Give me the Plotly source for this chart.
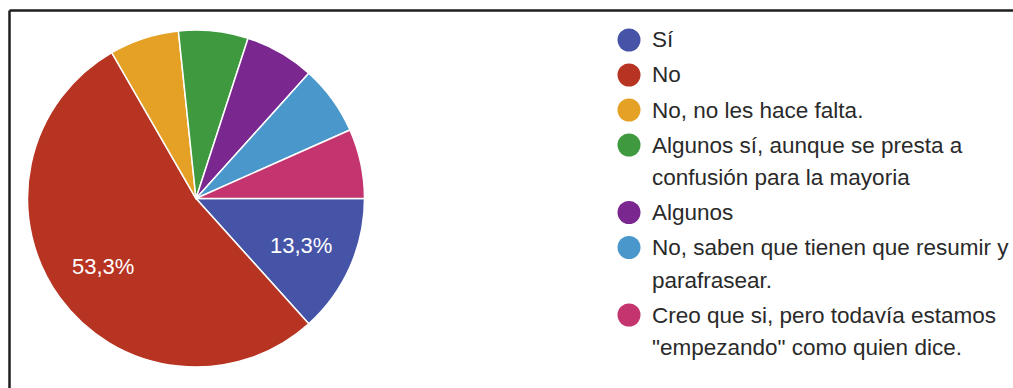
import math
import plotly.graph_objects as go

# Survey answers and number of respondents for each
labels = [
    "Sí",
    "No",
    "No, no les hace falta.",
    "Algunos sí, aunque se presta a confusión para la mayoría",
    "Algunos",
    "No, saben que tienen que resumir y parafrasear.",
    'Creo que si, pero todavía estamos "empezando" como quien dice.',
]
counts = [2, 8, 1, 1, 1, 1, 1]

# Legend text, wrapped the way it is shown
legend_lines = [
    ["Sí"],
    ["No"],
    ["No, no les hace falta."],
    ["Algunos sí, aunque se presta a", "confusión para la mayoria"],
    ["Algunos"],
    ["No, saben que tienen que resumir y", "parafrasear."],
    ["Creo que si, pero todavía estamos", '"empezando" como quien dice.'],
]

colors = ["#4654a8", "#b73322", "#e4a125", "#3f9a3f", "#7a2790", "#4a97cc", "#c4346f"]

W, H = 1013, 388
FONT = "Liberation Sans, Arial, sans-serif"


def px(x):
    return x / W


def py(y):
    return 1 - y / H


# pie placement (pixels)
PIE_L, PIE_R, PIE_T, PIE_B = 27, 365, 30, 367
PIE_CX, PIE_CY = (PIE_L + PIE_R) / 2, (PIE_T + PIE_B) / 2
PIE_RAD = (PIE_R - PIE_L) / 2
START_DEG = 90  # first slice starts at 3 o'clock, going clockwise

fig = go.Figure(
    go.Pie(
        labels=labels,
        values=counts,
        sort=False,
        direction="clockwise",
        rotation=START_DEG,
        marker=dict(colors=colors, line=dict(color="white", width=1.5)),
        textinfo="none",
        hoverinfo="label+percent",
        showlegend=False,
        domain=dict(x=[px(PIE_L), px(PIE_R)], y=[py(PIE_B), py(PIE_T)]),
    )
)

shapes = []
annotations = []

# percentage labels on the large slices, placed at the middle of each slice
total = sum(counts)
acc = 0
for c in counts:
    frac = c / total
    mid = START_DEG + 360 * (acc + frac / 2)  # clockwise from 12 o'clock
    acc += frac
    if frac <= 0.1:
        continue
    a = math.radians(mid)
    lx = PIE_CX + 0.68 * PIE_RAD * math.sin(a)
    ly = PIE_CY - 0.68 * PIE_RAD * math.cos(a)
    annotations.append(dict(text=f"{frac * 100:.1f}%".replace(".", ","),
                            xref="paper", yref="paper", x=px(lx), y=py(ly),
                            xanchor="center", yanchor="middle", showarrow=False,
                            font=dict(family=FONT, size=22, color="white")))

# frame lines along the top and left edge
shapes.append(dict(type="line", xref="paper", yref="paper",
                   x0=px(9.5), x1=1.0, y0=py(10.5), y1=py(10.5),
                   line=dict(color="#1e1e1e", width=2.5)))
shapes.append(dict(type="line", xref="paper", yref="paper",
                   x0=px(9.5), x1=px(9.5), y0=py(10.5), y1=0.0,
                   line=dict(color="#1e1e1e", width=2.5)))

# legend: dot + wrapped text for every answer
y = 40.0
item_gap = 35.0
wrap_gap = 32.5
r = 11.5
cx = 629.0
tx = 650.0
for col, lines in zip(colors, legend_lines):
    shapes.append(dict(type="circle", xref="paper", yref="paper",
                       x0=px(cx - r), x1=px(cx + r), y0=py(y + r), y1=py(y - r),
                       fillcolor=col, line=dict(width=0)))
    for i, ln in enumerate(lines):
        if i > 0:
            y += wrap_gap
        annotations.append(dict(text=ln, xref="paper", yref="paper",
                                x=px(tx), y=py(y), xanchor="left", yanchor="middle",
                                showarrow=False,
                                font=dict(family=FONT, size=22.5, color="#2a2a2a")))
    y += item_gap

fig.update_layout(
    width=W,
    height=H,
    margin=dict(l=0, r=0, t=0, b=0),
    paper_bgcolor="white",
    plot_bgcolor="white",
    shapes=shapes,
    annotations=annotations,
)

fig.write_html("out.html")
